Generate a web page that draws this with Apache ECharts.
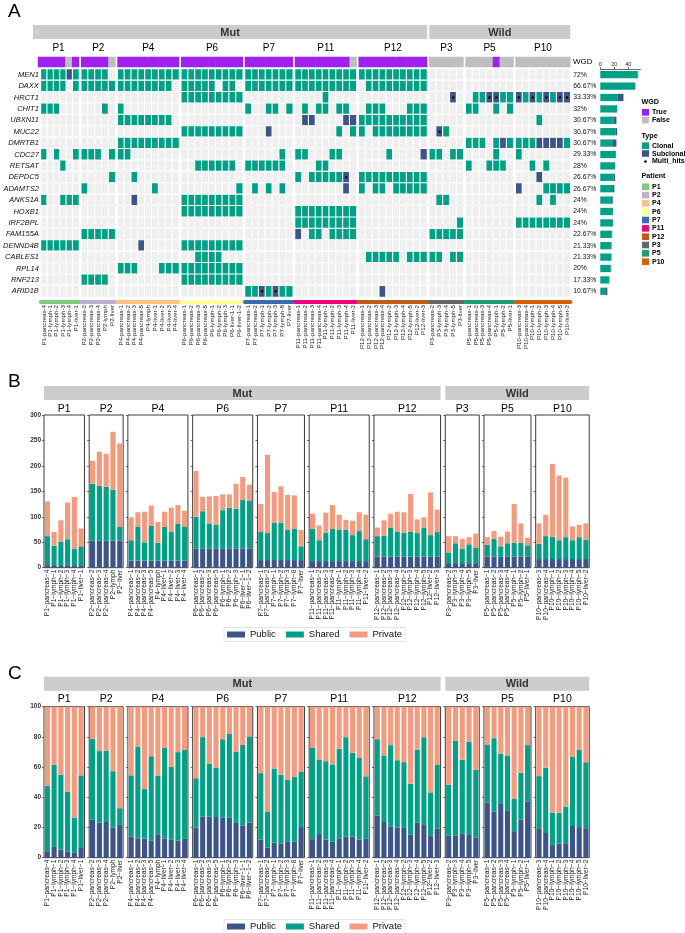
<!DOCTYPE html>
<html><head><meta charset="utf-8">
<script src="https://cdn.jsdelivr.net/npm/echarts@6/dist/echarts.min.js"></script>
<style>html,body{margin:0;padding:0;background:#fff}#c{width:685px;height:933px}</style>
</head><body><div id="c"></div>
<script>
// ---------------- DATA ----------------
const patients = ['P1','P2','P4','P6','P7','P11','P12','P3','P5','P10'];
const groupNames = ['Mut','Wild'];
const patientGroup = [0,0,0,0,0,0,0,1,1,1];
const patientColors = ['#7FC97F','#BEAED4','#FDC086','#FFFF99','#386CB0','#F0027F','#BF5B17','#666666','#1B9E77','#D95F02'];
const samples = [
  ['P1-pancreas-4','P1-lymph-1','P1-lymph-2','P1-lymph-3','P1-lymph-4','P1-liver-1'],
  ['P2-pancreas-2','P2-pancreas-3','P2-pancreas-4','P2-lymph','P2-liver'],
  ['P4-pancreas-1','P4-pancreas-2','P4-pancreas-3','P4-pancreas-5','P4-lymph','P4-liver-1','P4-liver-2','P4-liver-3','P4-liver-4'],
  ['P6-pancreas-1','P6-pancreas-2','P6-pancreas-3','P6-pancreas-5','P6-lymph-1','P6-lymph-2','P6-lymph-3','P6-liver-1-1','P6-liver-1-2'],
  ['P7-pancreas-1','P7-pancreas-2','P7-lymph-1','P7-lymph-2','P7-lymph-3','P7-lymph-8','P7-liver'],
  ['P11-pancreas-1','P11-pancreas-2','P11-pancreas-3','P11-pancreas-4','P11-lymph-1','P11-lymph-2','P11-lymph-3','P11-lymph-4','P11-liver-2'],
  ['P12-pancreas-1','P12-pancreas-2','P12-pancreas-3','P12-pancreas-4','P12-lymph-2','P12-lymph-3','P12-lymph-4','P12-lymph-5','P12-liver-2','P12-liver-3'],
  ['P3-pancreas-2','P3-lymph-3','P3-lymph-4','P3-lymph-5','P3-liver'],
  ['P5-pancreas-1','P5-pancreas-2','P5-pancreas-3','P5-pancreas-4','P5-lymph-1','P5-lymph-2','P5-liver-1'],
  ['P10-pancreas-3','P10-pancreas-4','P10-lymph-1','P10-lymph-2','P10-lymph-3','P10-lymph-4','P10-lymph-5','P10-liver-2']
];
// WGD: 1 = True, 0 = False
const wgd = [
  [1,1,1,1,0,1],[1,1,1,1,0],[1,1,1,1,1,1,1,1,1],[1,1,1,1,1,1,1,1,1],[1,1,1,1,1,1,1],
  [1,1,1,1,1,1,1,1,0],[1,1,1,1,1,1,1,1,1,1],[0,0,0,0,0],[0,0,0,0,1,0,0],[0,0,0,0,0,0,0,0]
];
const genes = ['MEN1','DAXX','HRCT1','CHIT1','UBXN11','MUC22','DMRTB1','CDC27','RETSAT','DEPDC5','ADAMTS2','ANKS1A','HOXB1','IRF2BPL','FAM155A','DENND4B','CABLES1','RPL14','RNF213','ARID1B'];
// 0 none, 1 clonal, 2 subclonal, 3 subclonal + multi_hits ; groups in patient order
const mutationRows = [
'111121 11110 111111111 111111111 1111111 111111111 1111111111 00000 0000000 00000000',
'111101 11111 111111110 111110110 1111111 111111111 0111111111 00000 0000000 00000000',
'000000 00000 000000000 111111111 0000000 000010000 0000000000 00030 0113311 31313133',
'111000 00010 100000000 000000000 1001101 010110110 0111000111 00000 1100101 00000000',
'000000 00000 111111110 000000000 0000000 022000022 1111111111 00000 0000000 00010000',
'000000 00000 000000000 111111111 0002000 000000101 1011111111 03100 0000000 00000000',
'000000 00000 111111111 000000000 0000000 000000000 0000000000 00000 1110121 11122221',
'101001 11101 110000000 000000000 0000010 110001100 0000100002 11011 0000100 10000000',
'000100 00000 000000000 001111110 1111110 000110000 0000000000 00000 1001110 00101000',
'000000 00001 001000000 000000000 0000000 101111130 1111111111 00000 0000000 00020000',
'000000 10000 000001000 000000001 0101010 000000020 1011011111 00000 0000000 20001111',
'100111 00000 002000000 111111111 0000000 000000000 0000000000 01100 0000000 00010100',
'000000 00000 000000000 111111111 0000000 111111111 0000000000 00000 0000000 00000000',
'000000 00000 000000000 000000000 0000000 111111111 0000000000 00001 0000000 11111111',
'000000 11111 000000000 000000000 0000000 201101111 0000000000 11111 0000000 00000000',
'111111 00000 000200000 111111111 0000000 000000000 0000000000 00000 0000000 00000000',
'000000 00000 000000000 001111000 0000000 000000000 0111110111 11011 0000000 00000000',
'000000 00000 111000111 111111111 0000000 000000000 0000000000 00000 0000000 00000000',
'000000 11110 000000000 111111111 0000000 000000000 0000000000 00000 0000000 00000000',
'000000 00000 000000000 000000000 1131311 000000000 0002000000 00000 0000000 00000000'
];
const countTicks = [0,20,40];
// Panel B counts (Public constant per patient)
const publicCounts = [5,53,14,38,15,13,22,9,22,17];
const sharedCounts = [
  [57,38,46,51,32,37],
  [112,108,106,100,27],
  [40,66,36,68,35,66,57,72,66],
  [62,73,49,46,75,80,78,95,93],
  [55,53,73,73,59,61,27],
  [64,41,56,63,62,62,51,59,43],
  [40,41,57,49,47,49,46,57,42,48],
  [21,39,28,37,30],
  [23,35,20,26,27,27,22],
  [30,45,44,37,43,37,43,38]
];
const privateCounts = [
  [68,27,42,72,102,35],
  [45,67,65,114,164],
  [45,29,60,40,41,30,47,37,32],
  [90,28,53,57,31,26,49,45,32],
  [55,154,61,72,69,66,32],
  [29,29,39,47,29,19,28,37,48],
  [17,30,27,39,40,74,27,20,84,44],
  [32,14,20,14,28],
  [15,15,19,23,76,38,15],
  [40,42,143,127,117,27,24,32]
];

// ---------------- STYLE / LAYOUT ----------------
const FONT = '"Liberation Sans", Arial, Helvetica, sans-serif';
const C_CLONAL='#00A087', C_SUB='#3C5488', C_EMPTY='#EFEFEF', C_TRUE='#A020F0', C_FALSE='#BEBEBE';
const C_PUB='#3C5488', C_SHA='#00A087', C_PRI='#F39B7F';

const chart = echarts.init(document.getElementById('c'));
const grids=[], xAxes=[], yAxes=[], series=[], graphics=[];
function addGrid(g,x,y){const gi=grids.length;grids.push(g);x.gridIndex=gi;y.gridIndex=gi;xAxes.push(x);yAxes.push(y);return gi;}
function txt(x,y,text,o){graphics.push({type:'text',x:x,y:y,silent:true,style:Object.assign({text:text,fill:'#000',fontSize:10,fontFamily:FONT,align:'center',verticalAlign:'middle'},o||{})});}
function rect(x,y,w,h,fill){graphics.push({type:'rect',silent:true,shape:{x:x,y:y,width:w,height:h},style:{fill:fill}});}
function strip(x1,x2,y,h,label){rect(x1,y,x2-x1,h,'#CCCCCC');txt((x1+x2)/2,y+h/2+0.5,label,{fill:'#333',fontSize:11,fontWeight:'bold'});}

const mut = mutationRows.map(r=>r.replace(/ /g,'').split('').map(Number));
const total = mut[0].length;
const offsets=[]; {let a=0; samples.forEach(s=>{offsets.push(a);a+=s.length;});}

// ---------------- PANEL A ----------------
const A_X0=38, A_CELL=6.84, A_GAP=2.15;
const heatIdx=[], wgdIdx=[];
const aLeft=[], aW=[];
patients.forEach((p,i)=>{
  const n=samples[i].length;
  const left=A_X0+offsets[i]*A_CELL+i*A_GAP, w=n*A_CELL;
  aLeft.push(left); aW.push(w);
  let gi=addGrid({left:left,top:57,width:w,height:10},
    {type:'category',data:samples[i],show:false},
    {type:'category',data:['WGD'],show:false});
  wgdIdx.push(series.length);
  series.push({type:'heatmap',xAxisIndex:gi,yAxisIndex:gi,silent:true,
    data:wgd[i].map((v,j)=>[j,0,v]),itemStyle:{borderWidth:0}});
  gi=addGrid({left:left,top:69,width:w,height:228},
    {type:'category',data:samples[i],offset:5,
     axisLine:{show:true,lineStyle:{color:patientColors[i],width:4}},
     axisTick:{show:false},
     axisLabel:{rotate:90,interval:0,fontSize:6.2,margin:3,color:'#222'}},
    {type:'category',data:genes,inverse:true,axisLine:{show:false},axisTick:{show:false},
     axisLabel:{show:i===0,fontStyle:'italic',fontSize:7.5,margin:2,color:'#111'}});
  const d=[], dots=[];
  genes.forEach((g,k)=>{for(let j=0;j<n;j++){const v=mut[k][offsets[i]+j];d.push([j,k,v]);if(v===3)dots.push([j,k]);}});
  heatIdx.push(series.length);
  series.push({type:'heatmap',xAxisIndex:gi,yAxisIndex:gi,silent:true,data:d,
    itemStyle:{borderColor:'#fff',borderWidth:1.1}});
  if(dots.length) series.push({type:'scatter',xAxisIndex:gi,yAxisIndex:gi,silent:true,data:dots,
    symbolSize:2.6,itemStyle:{color:'#000'},z:5});
});
// right-hand count bars
const clonalN = mut.map(r=>r.filter(v=>v===1||v===3).length);
const subN = mut.map(r=>r.filter(v=>v===2||v===3).length);
const pctLab = mut.map(r=>(+(r.filter(v=>v>0).length/total*100).toFixed(2))+'%');
{
  const gi=addGrid({left:600.3,top:69,width:40,height:228},
    {type:'value',position:'top',min:0,max:57,interval:20,
     axisLine:{show:true,lineStyle:{color:'#000',width:0.6}},
     axisTick:{show:true,length:2,lineStyle:{color:'#000',width:0.6}},
     axisLabel:{fontSize:5.5,margin:2,color:'#222',showMaxLabel:false,
       formatter:v=>countTicks.indexOf(v)>=0?String(v):''},
     splitLine:{show:false}},
    {type:'category',data:genes,inverse:true,axisLine:{show:false},axisTick:{show:false},
     axisLabel:{align:'left',margin:27,fontSize:6.8,color:'#111',formatter:(v,idx)=>pctLab[idx]}});
  series.push({type:'bar',name:'Clonal',stack:'cnt',xAxisIndex:gi,yAxisIndex:gi,silent:true,
    data:clonalN,barCategoryGap:'36%',itemStyle:{color:C_CLONAL}});
  series.push({type:'bar',name:'Subclonal',stack:'cnt',xAxisIndex:gi,yAxisIndex:gi,silent:true,
    data:subN,barCategoryGap:'36%',itemStyle:{color:C_SUB}});
}
txt(8,12,'A',{fontSize:19,align:'left'});
strip(33,aLeft[6]+aW[6],25,14,groupNames[0]);
strip(aLeft[7],aLeft[9]+aW[9],25,14,groupNames[1]);
patients.forEach((p,i)=>txt(aLeft[i]+aW[i]/2,48.5,p,{fontSize:10}));
txt(573,62,'WGD',{fontSize:8,align:'left'});
// A legend
const LX=642;
txt(LX-0.5,102,'WGD',{fontSize:7.2,fontWeight:'bold',align:'left'});
rect(LX,109,7,6.6,C_TRUE); txt(LX+10,112.5,'True',{fontSize:7,fontWeight:'bold',align:'left'});
rect(LX,116.8,7,6.6,C_FALSE); txt(LX+10,120.2,'False',{fontSize:7,fontWeight:'bold',align:'left'});
txt(LX-0.5,136,'Type',{fontSize:7.2,fontWeight:'bold',align:'left'});
rect(LX,142.4,7,6.6,C_CLONAL); txt(LX+10,145.8,'Clonal',{fontSize:7,fontWeight:'bold',align:'left'});
rect(LX,150.2,7,6.6,C_SUB); txt(LX+10,153.6,'Subclonal',{fontSize:7,fontWeight:'bold',align:'left'});
graphics.push({type:'circle',silent:true,shape:{cx:LX+3.5,cy:161.5,r:1.3},style:{fill:'#000'}});
txt(LX+10,161.5,'Multi_hits',{fontSize:7,fontWeight:'bold',align:'left'});
txt(LX-0.5,176,'Patient',{fontSize:7.2,fontWeight:'bold',align:'left'});
patients.forEach((p,k)=>{const y=183.4+k*8.33;rect(LX,y,7,6.6,patientColors[k]);txt(LX+10,y+3.4,p,{fontSize:7,fontWeight:'bold',align:'left'});});

// ---------------- PANELS B & C ----------------
const BX0=44, BU=6.53, BPAD=1.3, BGAP=4.72;
const bLeft=[], bW=[];
{let l=BX0; patients.forEach((p,i)=>{const w=samples[i].length*BU+BPAD;bLeft.push(l);bW.push(w);l+=w+BGAP;});}
function panel(top,height,letter,maxV,interval,pct,stripTop,labelY){
  txt(8,top-33,letter,{fontSize:19,align:'left'});
  strip(bLeft[0],bLeft[6]+bW[6],stripTop,14,groupNames[0]);
  strip(bLeft[7],bLeft[9]+bW[9],stripTop,14,groupNames[1]);
  patients.forEach((p,i)=>{
    txt(bLeft[i]+bW[i]/2,labelY,p,{fontSize:10.5});
    const gi=addGrid({left:bLeft[i],top:top,width:bW[i],height:height,show:true,borderColor:'#3a3a3a',borderWidth:1},
      {type:'category',data:samples[i].map(s=>s.replace(/-/g,'\u2212')),
       axisLine:{show:false},axisTick:{show:false},
       axisLabel:{rotate:90,interval:0,fontSize:6.6,margin:2,color:'#222'}},
      {type:'value',min:0,max:maxV,interval:interval,splitLine:{show:false},
       axisLine:{show:false},axisTick:{show:true,length:2,lineStyle:{color:'#444',width:0.8}},
       axisLabel:{show:i===0,fontSize:6.5,margin:3,color:'#333',fontWeight:'bold'}});
    const n=samples[i].length;
    const pub=[],sha=[],pri=[];
    for(let j=0;j<n;j++){
      const t=publicCounts[i]+sharedCounts[i][j]+privateCounts[i][j];
      const f=pct?100/t:1;
      pub.push(publicCounts[i]*f); sha.push(sharedCounts[i][j]*f); pri.push(privateCounts[i][j]*f);
    }
    [['Public',pub,C_PUB],['Shared',sha,C_SHA],['Private',pri,C_PRI]].forEach(s=>{
      series.push({type:'bar',name:s[0],stack:letter+p,xAxisIndex:gi,yAxisIndex:gi,silent:true,
        data:s[1],barCategoryGap:'24%',itemStyle:{color:s[2]}});
    });
  });
}
panel(415,152.7,'B',300,50,false,386,409);
panel(706.7,151,'C',100,20,true,676.7,699);

const legendBase={orient:'horizontal',left:224,itemWidth:18,itemHeight:6,itemGap:10,icon:'rect',
  data:['Public','Shared','Private'],textStyle:{fontSize:9.5,color:'#111',fontFamily:FONT},
  borderColor:'#DDDDDD',borderWidth:0.8,padding:[2,3],selectedMode:false};

chart.setOption({
  animation:false,
  textStyle:{fontFamily:FONT},
  grid:grids, xAxis:xAxes, yAxis:yAxes, series:series, graphic:graphics,
  legend:[Object.assign({},legendBase,{top:627.5}),Object.assign({},legendBase,{top:919.5})],
  visualMap:[
    {type:'piecewise',show:false,dimension:2,seriesIndex:heatIdx,
     pieces:[{value:0,color:C_EMPTY},{value:1,color:C_CLONAL},{value:2,color:C_SUB},{value:3,color:C_SUB}]},
    {type:'piecewise',show:false,dimension:2,seriesIndex:wgdIdx,
     pieces:[{value:0,color:C_FALSE},{value:1,color:C_TRUE}]}
  ]
});
</script></body></html>
